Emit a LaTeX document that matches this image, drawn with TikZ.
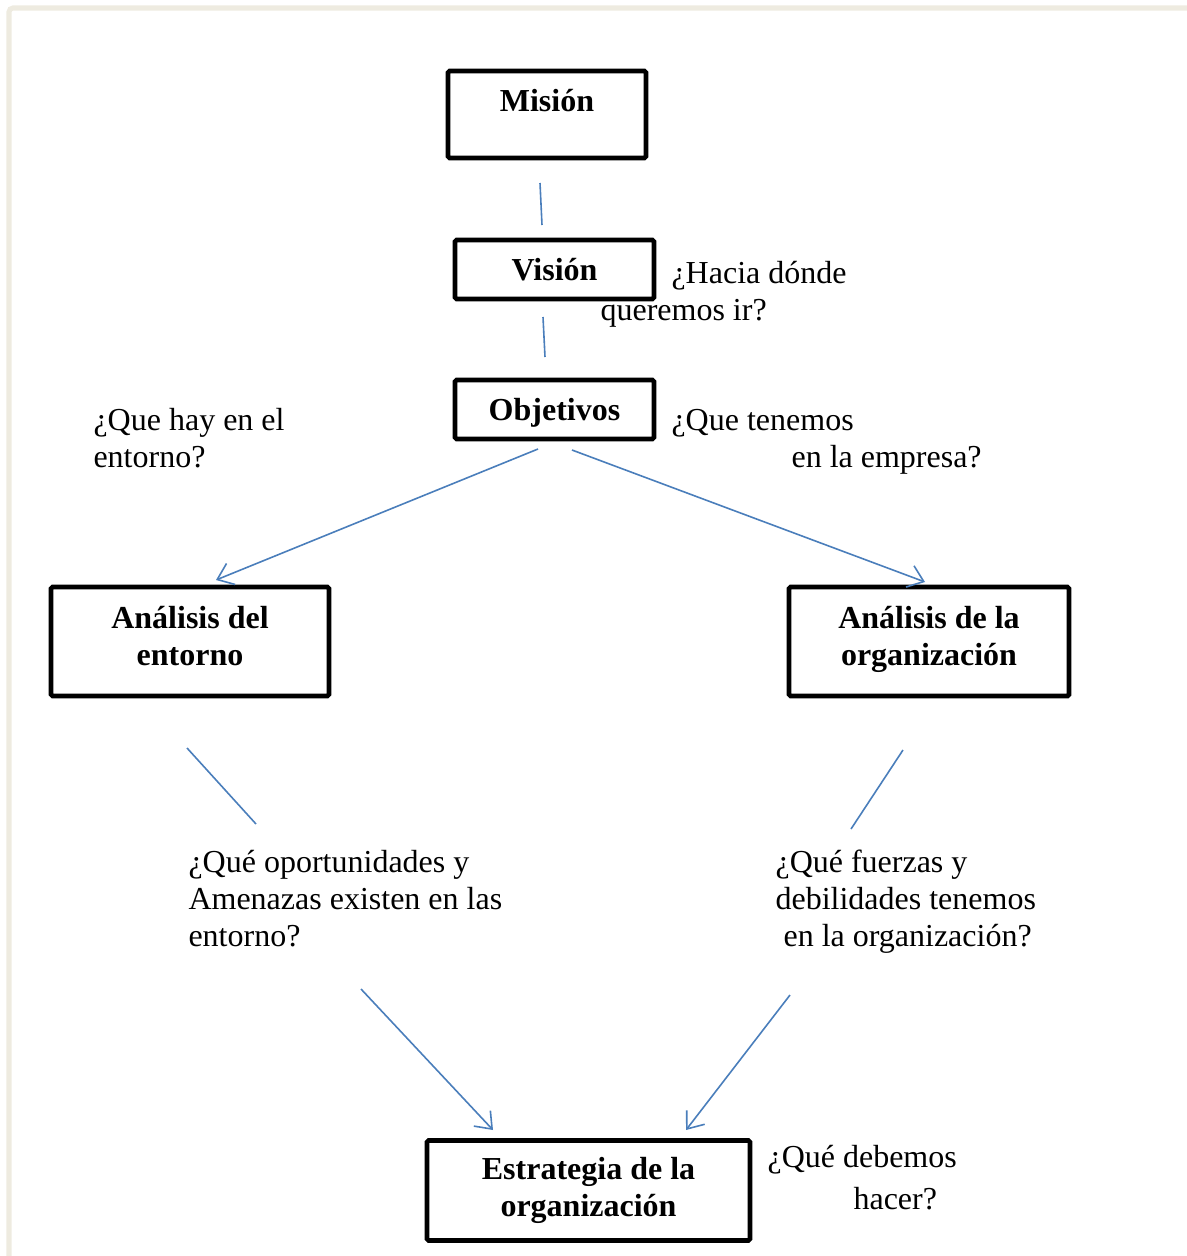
\documentclass[tikz,border=0pt]{standalone}
\usepackage{fontspec}
\setmainfont{Liberation Serif}
\usetikzlibrary{arrows.meta}
\definecolor{conn}{RGB}{74,126,187}
\definecolor{framecol}{RGB}{238,235,224}
\begin{document}
\begin{tikzpicture}[x=0.375pt,y=-0.375pt,
  box/.style={draw=black, line width=1.75pt, rounded corners=0.6pt, align=center,
    font=\fontsize{12}{13.9}\selectfont\bfseries, inner sep=0pt},
  q/.style={anchor=base west, inner sep=0pt, font=\fontsize{12}{13.9}\selectfont},
  link/.style={draw=conn, line width=0.6pt},
  arr/.style={link, -{Straight Barb[length=5.5pt,width=8.5pt]}}
]
\useasboundingbox (0,0) rectangle (1187,1256);
\draw[framecol, line width=1.9pt, rounded corners=1.5pt] (9,1260) -- (9,8) -- (1190,8);

% boxes
\node[box, minimum width=74.25pt, minimum height=32.6pt, text depth=10.3pt] (mision) at (547,114.5) {Misión};
\node[box, minimum width=74.6pt, minimum height=22.1pt] (vision) at (554.5,269.5) {Visión};
\node[box, minimum width=74.6pt, minimum height=22.1pt, text height=10.8pt] (objetivos) at (554.5,409.5) {Objetivos};
\node[box, minimum width=104.25pt, minimum height=40.9pt, text depth=4pt] (entorno) at (190,641.5) {Análisis del\\entorno};
\node[box, minimum width=105pt, minimum height=40.9pt, text depth=4.5pt] (organizacion) at (929,641.5) {Análisis de la\\organización};
\node[box, minimum width=121.1pt, minimum height=37.5pt] (estrategia) at (588.5,1190.5) {Estrategia de la\\organización};

% question texts
\node[q] (hacia1) at (671,283) {¿Hacia dónde};
\node[q] (hacia2) at (600,320) {queremos ir?};
\node[q] (hay1) at (93,430) {¿Que hay en el};
\node[q] (hay2) at (93,467) {entorno?};
\node[q] (ten1) at (671,430) {¿Que tenemos};
\node[q] (ten2) at (791,467) {en la empresa?};
\node[q] (op1) at (188,872) {¿Qué oportunidades y};
\node[q] (op2) at (188,909) {Amenazas existen en las};
\node[q] (op3) at (188,946) {entorno?};
\node[q] (fu1) at (775,872) {¿Qué fuerzas y};
\node[q] (fu2) at (775,909) {debilidades tenemos};
\node[q] (fu3) at (783,946) {en la organización?};
\node[q] (deb1) at (767,1167) {¿Qué debemos};
\node[q] (deb2) at (853,1209) {hacer?};

% connector end points
\coordinate (mv1) at (540,183);
\coordinate (mv2) at (542,225);
\coordinate (vo1) at (543,317);
\coordinate (vo2) at (545,357);
\coordinate (oe1) at (538,449);
\coordinate (oe2) at (216,580);
\coordinate (oo1) at (572,450);
\coordinate (oo2) at (925,582);
\coordinate (eq1) at (187,748);
\coordinate (eq2) at (256,824);
\coordinate (gq1) at (903,750);
\coordinate (gq2) at (851,829);
\coordinate (qe1) at (361,989);
\coordinate (qe2) at (493,1130);
\coordinate (qg1) at (790,995);
\coordinate (qg2) at (686,1130);

\draw[link] (mv1) -- (mv2);
\draw[link] (vo1) -- (vo2);
\draw[arr] (oe1) -- (oe2);
\draw[arr] (oo1) -- (oo2);
\draw[link] (eq1) -- (eq2);
\draw[link] (gq1) -- (gq2);
\draw[arr] (qe1) -- (qe2);
\draw[arr] (qg1) -- (qg2);
\end{tikzpicture}
\end{document}
